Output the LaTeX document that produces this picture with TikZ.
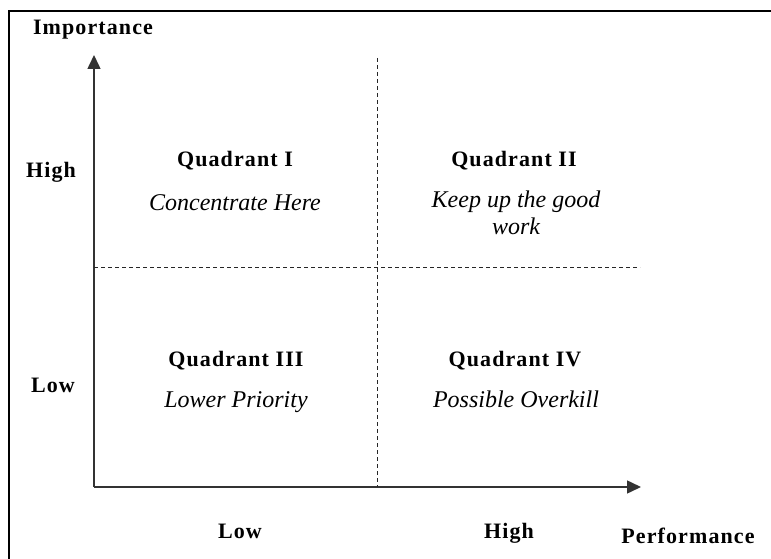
\documentclass[tikz,border=0pt]{standalone}
\usepackage{fontspec}
\setmainfont{Liberation Serif}[LetterSpace=5]
\newfontfamily\notefont{Liberation Serif}
\usetikzlibrary{arrows.meta}
\tikzset{
  axis/.style={draw=black!80,line width=1.5pt,-{Triangle[length=14pt,width=13pt]}},
  divider/.style={draw=black!85,line width=0.8pt,dash pattern=on 4pt off 3pt},
  head/.style={anchor=base,font=\fontsize{22}{26}\selectfont\bfseries},
  note/.style={anchor=base,align=center,font=\fontsize{24}{27}\notefont\itshape},
}
\begin{document}
\begin{tikzpicture}[x=1pt,y=-1pt]
	\useasboundingbox (0,0) rectangle (771,559);
	% frame (open to the right and below)
	\draw[line width=2pt] (9,559) -- (9,11) -- (771,11);
	% axes
	\coordinate (origin) at (94,487);
	\coordinate (ytop) at (94,55);
	\coordinate (xend) at (641,487);
	\draw[axis] (origin) -- (ytop);
	\draw[axis] (origin) -- (xend);
	% quadrant dividers
	\coordinate (vtop) at (377,58);
	\coordinate (vbot) at (377,487);
	\coordinate (hleft) at (94,267);
	\coordinate (hright) at (640,267);
	\draw[divider] (vtop) -- (vbot);
	\draw[divider] (hleft) -- (hright);
	% axis titles and levels
	\node[head] (imp) at (93,35) {Importance};
	\node[head] (perf) at (688,543) {Performance};
	\node[head] (yhigh) at (51,178) {High};
	\node[head] (ylow) at (53,392) {Low};
	\node[head] (xlow) at (240,538) {Low};
	\node[head] (xhigh) at (509,538) {High};
	% quadrants (a two-line note sits on its last baseline)
	\node[head] (q1) at (235,167) {Quadrant I};
	\node[note] (q1t) at (235,210) {Concentrate Here};
	\node[head] (q2) at (514,167) {Quadrant II};
	\node[note] (q2t) at (516,234) {Keep up the good\\work};
	\node[head] (q3) at (236,366) {Quadrant III};
	\node[note] (q3t) at (236,407) {Lower Priority};
	\node[head] (q4) at (515,366) {Quadrant IV};
	\node[note] (q4t) at (516,407) {Possible Overkill};
\end{tikzpicture}
\end{document}
